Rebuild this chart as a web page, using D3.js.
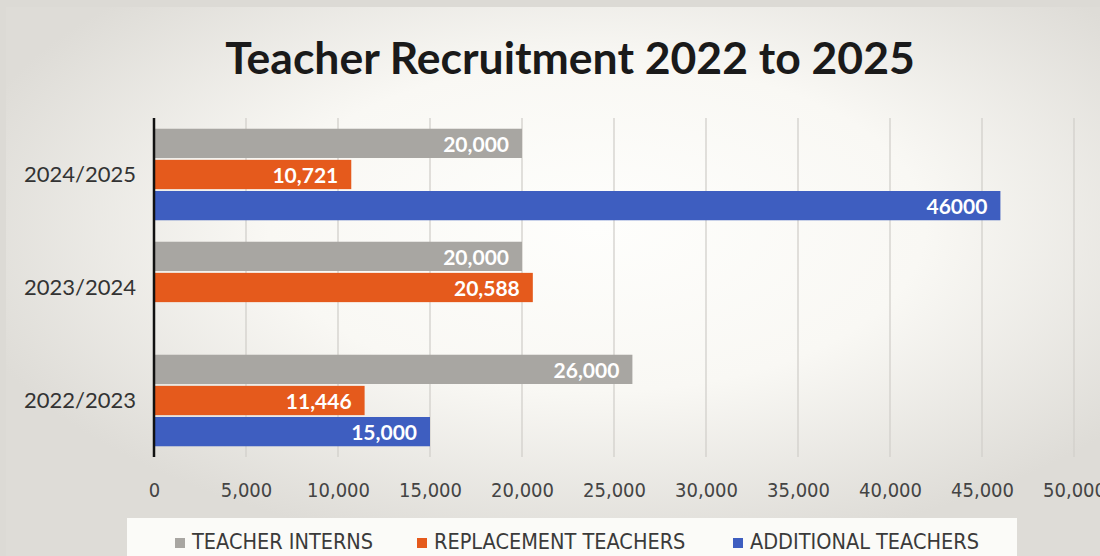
<!DOCTYPE html>
<html>
<head>
<meta charset="utf-8">
<script src="https://cdn.jsdelivr.net/npm/d3@7"></script>
<style>
  body { margin: 0; background: #e4e2dd; }
  svg { display: block; }
</style>
</head>
<body>
<svg id="chart" width="1100" height="556"></svg>
<script>
// data
var years = ['2024/2025', '2023/2024', '2022/2023'];
var series = ['TEACHER INTERNS', 'REPLACEMENT TEACHERS', 'ADDITIONAL TEACHERS'];
var interns = [20000, 20000, 26000];
var replacement = [10721, 20588, 11446];
var additional = [46000, null, 15000];
var labelText = {
  'TEACHER INTERNS': ['20,000', '20,000', '26,000'],
  'REPLACEMENT TEACHERS': ['10,721', '20,588', '11,446'],
  'ADDITIONAL TEACHERS': ['46000', '', '15,000']
};
var ticks = [0, 5000, 10000, 15000, 20000, 25000, 30000, 35000, 40000, 45000, 50000];
var colors = ['#a8a6a2', '#e55a1c', '#3e5ec0'];

var svg = d3.select('#chart');
var W = 1100, H = 556;
var values = [interns, replacement, additional];

// photographed-paper look
var defs = svg.append('defs');
var grad = defs.append('radialGradient').attr('id', 'bg')
  .attr('cx', '0.54').attr('cy', '0.40').attr('r', '0.6');
grad.append('stop').attr('offset', '0%').attr('stop-color', '#fefefc');
grad.append('stop').attr('offset', '50%').attr('stop-color', '#f9f8f4');
grad.append('stop').attr('offset', '100%').attr('stop-color', '#dedcd7');

svg.append('rect').attr('width', W).attr('height', H).attr('fill', '#dcdad5');
svg.append('rect').attr('x', 6).attr('y', 7).attr('width', W - 6).attr('height', H - 7)
  .attr('fill', 'url(#bg)');

var margin = { left: 154, top: 118, bottom: 457 };
var x = d3.scaleLinear().domain([0, 50000]).range([margin.left, 1074]);
var y0 = d3.scaleBand().domain(years).range([margin.top, margin.bottom])
  .paddingInner(0.19).paddingOuter(0.095);
var y1 = d3.scaleBand().domain(series).range([0, y0.bandwidth()]).paddingInner(0.06);

// title
svg.append('text')
  .attr('x', 570).attr('y', 74)
  .attr('text-anchor', 'middle')
  .style('font-family', 'Lato, "Open Sans", sans-serif')
  .style('font-weight', 'bold')
  .style('font-size', '44.5px')
  .attr('fill', '#1a1a1a')
  .text('Teacher Recruitment 2022 to 2025');

// gridlines
svg.append('g').selectAll('line')
  .data(ticks.slice(1))
  .enter().append('line')
  .attr('x1', function(d) { return x(d); })
  .attr('x2', function(d) { return x(d); })
  .attr('y1', margin.top).attr('y2', margin.bottom)
  .attr('stroke', '#d2d0cb').attr('stroke-width', 1.3);

// bars
var group = svg.append('g').selectAll('g')
  .data(years)
  .enter().append('g')
  .attr('transform', function(d) { return 'translate(0,' + y0(d) + ')'; });

series.forEach(function(s, si) {
  group.each(function(yr, yi) {
    var v = values[si][yi];
    if (v == null) return;
    var g = d3.select(this);
    g.append('rect')
      .attr('x', x(0))
      .attr('y', y1(s))
      .attr('width', x(v) - x(0))
      .attr('height', y1.bandwidth())
      .attr('fill', colors[si]);
    g.append('text')
      .attr('x', x(v) - 13)
      .attr('y', y1(s) + y1.bandwidth() / 2)
      .attr('dy', '0.4em')
      .attr('text-anchor', 'end')
      .style('font-family', 'Lato, "Open Sans", sans-serif')
      .style('font-weight', 'bold')
      .style('font-size', '21px')
      .attr('fill', '#ffffff')
      .text(labelText[s][yi]);
  });
});

// y axis
var yAxis = d3.axisLeft(y0).tickSize(0).tickPadding(18);
var yg = svg.append('g').attr('transform', 'translate(' + x(0) + ',0)').call(yAxis);
yg.select('.domain').remove();
yg.selectAll('text')
  .style('font-family', 'Lato, "Open Sans", sans-serif')
  .style('font-size', '22px')
  .attr('fill', '#333333');
svg.append('line')
  .attr('x1', x(0)).attr('x2', x(0))
  .attr('y1', margin.top).attr('y2', margin.bottom)
  .attr('stroke', '#111111').attr('stroke-width', 2.5);

// x axis labels (the last one runs off the edge, as in the photo)
var xAxis = d3.axisBottom(x).tickValues(ticks).tickSize(0).tickPadding(26)
  .tickFormat(d3.format(','));
var xg = svg.append('g').attr('transform', 'translate(0,' + margin.bottom + ')').call(xAxis);
xg.select('.domain').remove();
xg.selectAll('text')
  .style('font-family', '"Liberation Sans Narrow", "DejaVu Sans Condensed", sans-serif')
  .style('font-size', '20px')
  .attr('fill', '#444444');

// legend
svg.append('rect')
  .attr('x', 127).attr('y', 518).attr('width', 890).attr('height', 40)
  .attr('fill', '#fbfbf8');
var legendX = [175, 417, 733];
var leg = svg.append('g').selectAll('g')
  .data(series)
  .enter().append('g')
  .attr('transform', function(d, i) { return 'translate(' + legendX[i] + ',538)'; });
leg.append('rect')
  .attr('width', 10).attr('height', 10)
  .attr('fill', function(d, i) { return colors[i]; });
leg.append('text')
  .attr('x', 17).attr('y', 10.5)
  .style('font-family', '"Liberation Sans Narrow", "DejaVu Sans Condensed", sans-serif')
  .style('font-size', '21.5px')
  .attr('fill', '#3a3a3a')
  .text(function(d) { return d; });
</script>
</body>
</html>
